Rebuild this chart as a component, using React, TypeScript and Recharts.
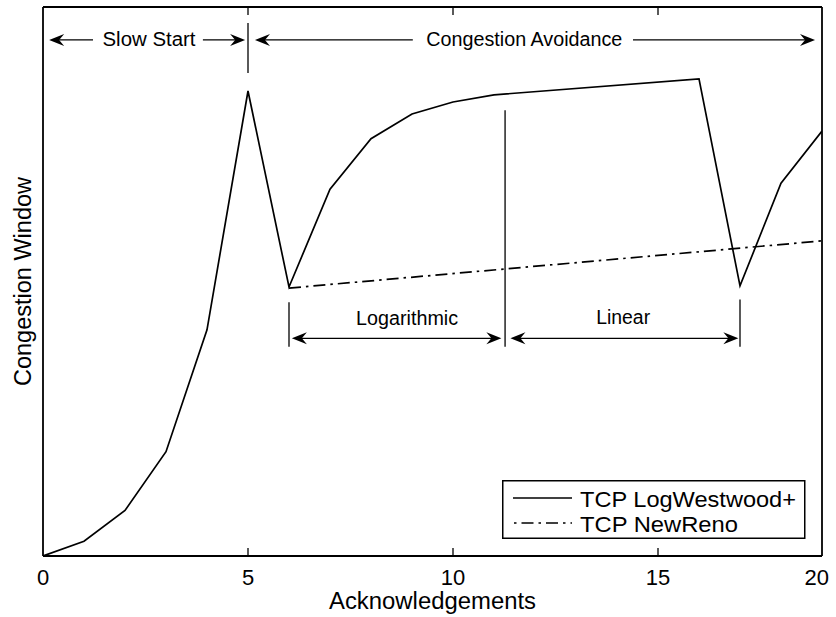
import React from 'react';
import { LineChart, Line, XAxis, YAxis, ReferenceLine, ReferenceDot, Legend } from 'recharts';

const FONT = '"Liberation Sans", Arial, Helvetica, sans-serif';

// ---- Series data ----
const ackLogWestwood = [0, 1, 2, 3, 4, 5, 6, 7, 8, 9, 10, 11, 16, 17, 18, 19];
const cwndLogWestwood = [0, 2.7, 8.3, 19.0, 41.2, 84.7, 49.0, 66.8, 76.0, 80.5, 82.7, 84.0, 86.9, 49.2, 67.9, 77.4];
const ackNewReno = [6, 19];
const cwndNewReno = [48.8, 57.4];

const seriesNames = ['TCP LogWestwood+', 'TCP NewReno'];

// ---- Axis ticks ----
const xTickValues = [0, 5, 10, 15, 19];
const xTickLabels = ['0', '5', '10', '15', '20'];

// ---- Annotations (data coordinates) ----
const dividerLines = [
  { x: 5, from: 88.0, to: 97.1 },
  { x: 6, from: 38.1, to: 46.2 },
  { x: 11.27, from: 38.1, to: 81.2 },
  { x: 17, from: 38.1, to: 46.7 },
];
const arrowSegments = [
  { from: 0.15, to: 1.22, y: 94.0, head: 'start' },
  { from: 3.9, to: 4.93, y: 94.0, head: 'end' },
  { from: 5.17, to: 9.02, y: 94.0, head: 'start' },
  { from: 14.39, to: 18.83, y: 94.0, head: 'end' },
  { from: 6.07, to: 11.18, y: 39.65, head: 'both' },
  { from: 11.4, to: 16.96, y: 39.65, head: 'both' },
];
const annotationTexts = ['Slow Start', 'Congestion Avoidance', 'Logarithmic', 'Linear'];
const annotationX = [2.585, 11.74, 8.88, 14.15];
const annotationY = [92.9, 92.9, 42.1, 42.2];

const textWidths: Record<string, number> = {
  'Slow Start': 93,
  'Congestion Avoidance': 196,
  Logarithmic: 102,
  Linear: 54,
  'TCP LogWestwood+': 216,
  'TCP NewReno': 158,
  Acknowledgements: 207,
  'Congestion Window': 209,
};

const logData = ackLogWestwood.map((x, i) => ({ x, y: cwndLogWestwood[i] }));
const renoData = ackNewReno.map((x, i) => ({ x, y: cwndNewReno[i] }));

const DASHDOT = '12 5 2.5 5';

function headPoints(tx: number, ty: number, dir: number) {
  const L = 15, W = 6, N = 5;
  return `${tx},${ty} ${tx - dir * L},${ty - W} ${tx - dir * (L - N)},${ty} ${tx - dir * L},${ty + W}`;
}

const makeArrowShape = (head: string) => (p: any) => {
  const { x1, y1, x2, y2 } = p;
  const left = Math.min(x1, x2);
  const right = Math.max(x1, x2);
  const y = (y1 + y2) / 2;
  const hasStart = head === 'start' || head === 'both';
  const hasEnd = head === 'end' || head === 'both';
  return (
    <g>
      <line
        x1={hasStart ? left + 8 : left}
        x2={hasEnd ? right - 8 : right}
        y1={y}
        y2={y}
        stroke="#000"
        strokeWidth={1.3}
      />
      {hasStart && <polygon points={headPoints(left, y, -1)} fill="#000" />}
      {hasEnd && <polygon points={headPoints(right, y, 1)} fill="#000" />}
    </g>
  );
};

const makeTextShape = (text: string) => (p: any) => (
  <text
    x={p.cx}
    y={p.cy}
    textAnchor="middle"
    fontSize={20}
    fontFamily={FONT}
    fill="#000"
    textLength={textWidths[text]}
    lengthAdjust="spacingAndGlyphs"
  >
    {text}
  </text>
);

const BottomTick = (props: any) => {
  const { x, y, payload } = props;
  const i = xTickValues.indexOf(payload.value);
  const last = i === xTickValues.length - 1;
  const inner = i > 0 && !last;
  return (
    <g>
      {inner && <line x1={x} x2={x} y1={y} y2={y - 8} stroke="#000" strokeWidth={1.3} />}
      <text
        x={last ? x + 7 : x}
        y={y + 29}
        textAnchor={last ? 'end' : 'middle'}
        fontSize={22}
        fontFamily={FONT}
        fill="#000"
      >
        {xTickLabels[i]}
      </text>
    </g>
  );
};

const TopTick = (props: any) => {
  const { x, y, payload } = props;
  const i = xTickValues.indexOf(payload.value);
  const inner = i > 0 && i < xTickValues.length - 1;
  return <g>{inner && <line x1={x} x2={x} y1={y} y2={y + 8} stroke="#000" strokeWidth={1.3} />}</g>;
};

const renderXLabel = (props: any) => {
  const vb = props.viewBox || {};
  return (
    <text
      x={vb.x + vb.width / 2}
      y={vb.y + 53}
      textAnchor="middle"
      fontSize={23.5}
      fontFamily={FONT}
      fill="#000"
      textLength={textWidths['Acknowledgements']}
      lengthAdjust="spacingAndGlyphs"
    >
      Acknowledgements
    </text>
  );
};

const renderYLabel = (props: any) => {
  const vb = props.viewBox || {};
  const cx = vb.x + vb.width - 12;
  const cy = vb.y + vb.height / 2;
  return (
    <text
      x={cx}
      y={cy}
      transform={`rotate(-90 ${cx} ${cy})`}
      textAnchor="middle"
      fontSize={23.5}
      fontFamily={FONT}
      fill="#000"
      textLength={textWidths['Congestion Window']}
      lengthAdjust="spacingAndGlyphs"
    >
      Congestion Window
    </text>
  );
};

const LegendBox = (props: any) => {
  const payload = props.payload || [];
  return (
    <svg width={304} height={60} style={{ display: 'block' }}>
      <rect x={0.75} y={0.75} width={302} height={57.5} fill="#fff" stroke="#000" strokeWidth={1.5} />
      {payload.map((entry: any, i: number) => {
        const rowY = 18 + i * 25;
        const dashed = entry.value === seriesNames[1];
        return (
          <g key={entry.value}>
            <line
              x1={dashed ? 12 : 11}
              x2={70}
              y1={rowY}
              y2={rowY}
              stroke="#000"
              strokeWidth={1.5}
              strokeDasharray={dashed ? '2.5 5 12 5' : undefined}
            />
            <text
              x={78}
              y={rowY + 9}
              fontSize={22}
              fontFamily={FONT}
              fill="#000"
              textLength={textWidths[entry.value]}
              lengthAdjust="spacingAndGlyphs"
            >
              {entry.value}
            </text>
          </g>
        );
      })}
    </svg>
  );
};

export default function App() {
  return (
    <div style={{ position: 'absolute', left: 0, top: 0, width: 836, height: 617, background: '#fff' }}>
      <LineChart width={836} height={617} margin={{ top: 5, right: 12, bottom: 31, left: 13 }}>
        <XAxis
          dataKey="x"
          type="number"
          domain={[0, 19]}
          ticks={xTickValues}
          interval={0}
          height={30}
          tickSize={0}
          tickMargin={0}
          tickLine={false}
          tick={<BottomTick />}
          axisLine={{ stroke: '#000', strokeWidth: 1.8 }}
          allowDataOverflow
          label={renderXLabel}
        />
        <XAxis
          xAxisId="top"
          orientation="top"
          dataKey="x"
          type="number"
          domain={[0, 19]}
          ticks={xTickValues}
          interval={0}
          height={2}
          tickSize={0}
          tickMargin={0}
          tickLine={false}
          tick={<TopTick />}
          axisLine={{ stroke: '#000', strokeWidth: 1.8 }}
          allowDataOverflow
        />
        <YAxis
          type="number"
          domain={[0, 100]}
          width={30}
          tick={false}
          tickLine={false}
          axisLine={{ stroke: '#000', strokeWidth: 1.8 }}
          allowDataOverflow
          label={renderYLabel}
        />
        <YAxis
          yAxisId="right"
          orientation="right"
          type="number"
          domain={[0, 100]}
          width={2}
          tick={false}
          tickLine={false}
          axisLine={{ stroke: '#000', strokeWidth: 1.8 }}
        />
        <Line
          name={seriesNames[0]}
          data={logData}
          dataKey="y"
          type="linear"
          stroke="#000"
          strokeWidth={1.7}
          dot={false}
          activeDot={false}
          isAnimationActive={false}
        />
        <Line
          name={seriesNames[1]}
          data={renoData}
          dataKey="y"
          type="linear"
          stroke="#000"
          strokeWidth={1.7}
          strokeDasharray={DASHDOT}
          dot={false}
          activeDot={false}
          isAnimationActive={false}
        />
        {dividerLines.map((d, i) => (
          <ReferenceLine
            key={`v${i}`}
            segment={[{ x: d.x, y: d.from }, { x: d.x, y: d.to }]}
            stroke="#000"
            strokeWidth={1.3}
          />
        ))}
        {arrowSegments.map((a, i) => (
          <ReferenceLine
            key={`a${i}`}
            segment={[{ x: a.from, y: a.y }, { x: a.to, y: a.y }]}
            shape={makeArrowShape(a.head)}
          />
        ))}
        {annotationTexts.map((t, i) => (
          <ReferenceDot key={`t${i}`} x={annotationX[i]} y={annotationY[i]} r={0} shape={makeTextShape(t)} />
        ))}
        <Legend
          layout="horizontal"
          verticalAlign="middle"
          align="center"
          content={<LegendBox />}
          wrapperStyle={{ position: 'absolute', left: 502, top: 480, width: 304, height: 60 }}
        />
      </LineChart>
    </div>
  );
}
